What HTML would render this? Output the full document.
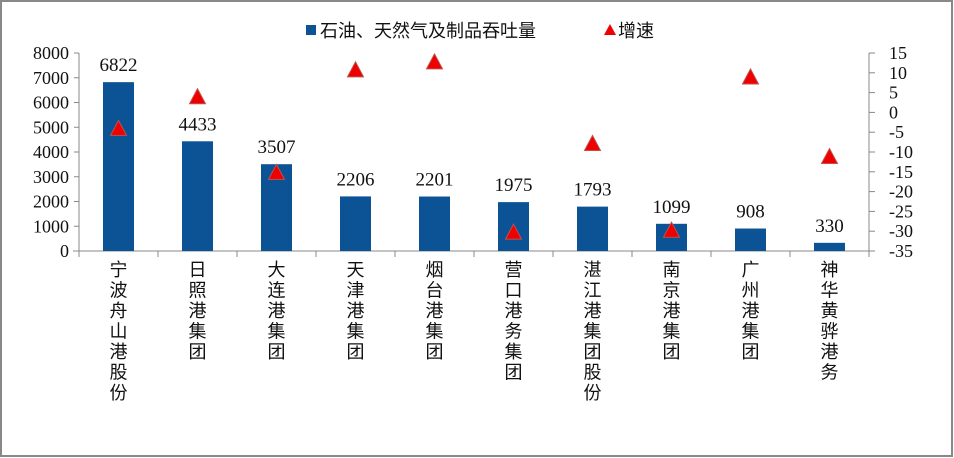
<!DOCTYPE html>
<html><head><meta charset="utf-8"><style>
html,body{margin:0;padding:0;background:#fff;}
svg{display:block;font-family:"Liberation Serif","Noto Serif CJK SC",serif;}
.cjk{font-family:"Liberation Sans","Noto Sans CJK SC",sans-serif;}
</style></head><body>
<svg id="chart" width="954" height="458">
<rect x="1" y="1" width="951" height="455" fill="#fff" stroke="#888" stroke-width="2"/>
<g>
<rect x="306" y="25" width="10" height="10" fill="#0b5394"/>
<text x="320" y="37" font-size="18" class="cjk" fill="#111">石油、天然气及制品吞吐量</text>
<polygon points="604,35 616,35 610,24" fill="#e00"/>
<text x="618" y="37" font-size="18" class="cjk" fill="#111">增速</text>
</g>
<g id="axes"></g>
<g id="marks"></g>
</svg>
<script>
const categories=["宁波舟山港股份","日照港集团","大连港集团","天津港集团","烟台港集团","营口港务集团","湛江港集团股份","南京港集团","广州港集团","神华黄骅港务"];
const throughput=[6822,4433,3507,2206,2201,1975,1793,1099,908,330];
const growth=[-4.3,3.7,-15.4,10.5,12.5,-30.5,-8.1,-30,8.7,-11.4];
const leftTicks=[0,1000,2000,3000,4000,5000,6000,7000,8000];
const rightTicks=[15,10,5,0,-5,-10,-15,-20,-25,-30,-35];

const NS="http://www.w3.org/2000/svg";
const X0=79,X1=869,YT=53,YB=251;
const band=(X1-X0)/categories.length;
const xc=i=>X0+band*(i+0.5);
const yL=v=>YB-(v/8000)*(YB-YT);
const yR=v=>YB-((v+35)/50)*(YB-YT);
function mk(tag,attrs,parent){const e=document.createElementNS(NS,tag);for(const k in attrs)e.setAttribute(k,attrs[k]);parent.appendChild(e);return e;}
const axes=document.getElementById('axes'),marks=document.getElementById('marks');

let ax=mk('line',{x1:X0,y1:YT,x2:X0,y2:YB,stroke:'#888'},axes);


ax=mk('line',{x1:X1,y1:YT,x2:X1,y2:YB+6,stroke:'#888'},axes);


ax=mk('line',{x1:X0-6,y1:YB,x2:X1,y2:YB,stroke:'#888'},axes);



leftTicks.forEach(v=>{
 const y=yL(v);
 mk('line',{x1:X0-5,y1:y,x2:X0,y2:y,stroke:'#888'},axes);
 const t=mk('text',{x:X0-10,y:y+6,'font-size':18,'text-anchor':'end',fill:'#111'},axes);
 t.textContent=v;
 
 
});
rightTicks.forEach(v=>{
 const y=yR(v);
 mk('line',{x1:X1,y1:y,x2:X1+6,y2:y,stroke:'#888'},axes);
 const t=mk('text',{x:X1+20,y:y+6,'font-size':18,fill:'#111'},axes);
 t.textContent=v;
 
 
});
for(let i=0;i<=categories.length;i++){
 const x=X0+band*i;
 mk('line',{x1:x,y1:YB,x2:x,y2:YB+6,stroke:'#888'},axes);
}
categories.forEach((c,i)=>{
 const t=mk('text',{x:xc(i),'font-size':18,'text-anchor':'middle',fill:'#111',class:'cjk'},axes);
 
 
 [...c].forEach((ch,k)=>{const s=mk('tspan',{x:xc(i),y:276+k*20.5},t);s.textContent=ch;});
});
throughput.forEach((v,i)=>{
 const y=yL(v);
 const r=mk('rect',{x:xc(i)-15.5,y:y,width:31,height:YB-y,fill:'#0b5394'},marks);
 
 
 const t=mk('text',{x:xc(i),y:y-11,'font-size':19,'text-anchor':'middle',fill:'#111'},marks);
 t.textContent=v;
 
 
});
growth.forEach((v,i)=>{
 const y=yR(v),x=xc(i);
 const p=mk('polygon',{points:`${x-8},${y+6} ${x+8},${y+6} ${x},${y-9}`,fill:'#e00',stroke:'#c0504d','stroke-width':1},marks);
 
 
});
</script>
</body></html>
